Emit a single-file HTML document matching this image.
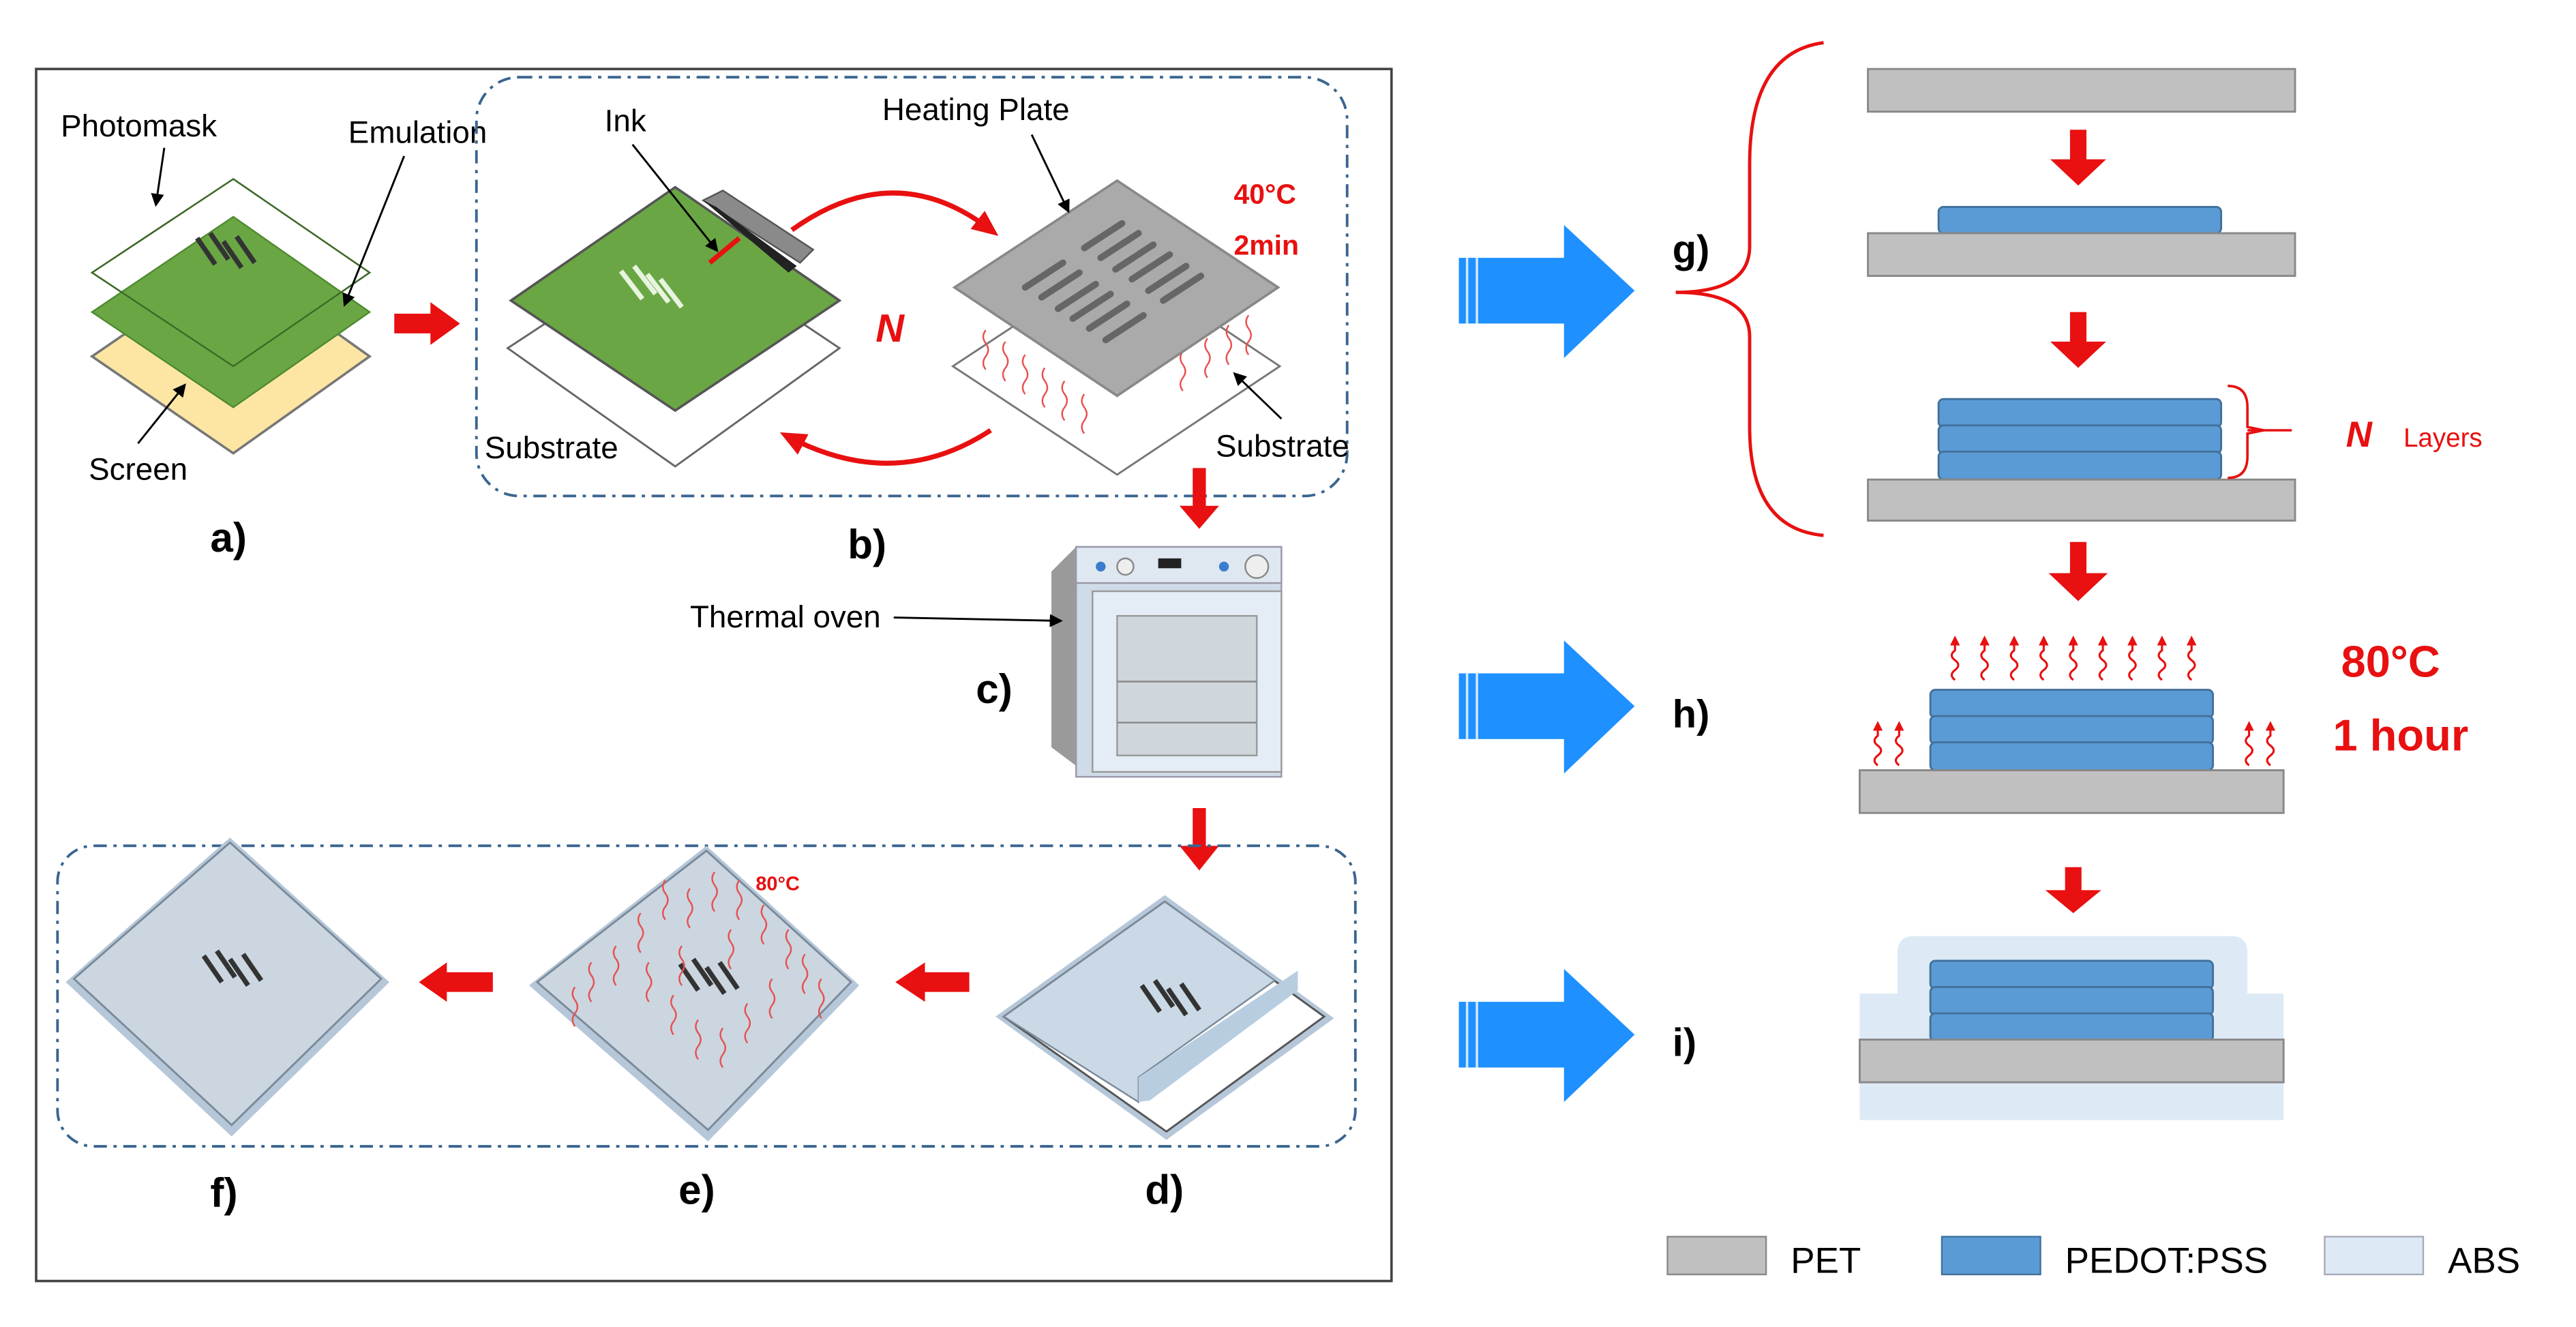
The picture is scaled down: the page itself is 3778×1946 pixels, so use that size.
<!DOCTYPE html>
<html><head><meta charset="utf-8"><style>
html,body{margin:0;padding:0;background:#fff}
svg{display:block}
text{font-family:"Liberation Sans",sans-serif}
</style></head><body>
<svg width="3778" height="1946" viewBox="0 0 1568 808" preserveAspectRatio="none" xmlns="http://www.w3.org/2000/svg">
<defs>
<marker id="ah" markerWidth="8" markerHeight="8" refX="6" refY="4" orient="auto" markerUnits="userSpaceOnUse"><path d="M0,0 L8,4 L0,8 z" fill="#000"/></marker>
<marker id="rh" markerWidth="16" markerHeight="14" refX="10" refY="7" orient="auto" markerUnits="userSpaceOnUse"><path d="M0,0 L16,7 L0,14 z" fill="#e81010"/></marker>
<marker id="sh" markerWidth="6" markerHeight="6" refX="3" refY="3" orient="auto" markerUnits="userSpaceOnUse"><path d="M0,0 L6,3 L0,6 z" fill="#e81010"/></marker>
<g id="wv"><path d="M0,0 q-4,-3 0,-6 q4,-3 0,-6 q-4,-3 0,-6 l0,-6" fill="none" stroke="#e81010" stroke-width="1.3" marker-end="url(#sh)"/></g>
<g id="tw"><path d="M0,0 q-3,-4 0,-8 q3,-4 0,-8 q-3,-4 0,-8" fill="none" stroke="#e85050" stroke-width="1"/></g>
<g id="pat" stroke="#333" stroke-width="3"><line x1="0" y1="0" x2="11" y2="16"/><line x1="8" y1="-3" x2="19" y2="13"/><line x1="16" y1="2" x2="27" y2="18"/><line x1="24" y1="-1" x2="35" y2="15"/></g>
</defs>
<rect width="1568" height="808" fill="#fff"/>
<rect x="22" y="42" width="825" height="738" fill="none" stroke="#444" stroke-width="1.5"/>

<!-- a) -->
<polygon points="142,158 225,217 142,276 56,217" fill="#fde6a4" stroke="#777" stroke-width="1.5"/>
<polygon points="142,109 225,166 142,223 56,166" fill="#fff" stroke="#666" stroke-width="1"/>
<polygon points="142,132 225,190 142,248 56,190" fill="#6aa744" stroke="#4e8a30" stroke-width="1"/>
<polygon points="142,109 225,166 142,223 56,166" fill="none" stroke="#3b6a25" stroke-width="1"/>
<use href="#pat" x="120" y="145"/>
<text x="37" y="83" font-size="19">Photomask</text>
<line x1="100" y1="90" x2="95" y2="124" stroke="#000" stroke-width="1.2" marker-end="url(#ah)"/>
<text x="212" y="87" font-size="19">Emulation</text>
<line x1="246" y1="95" x2="210" y2="185" stroke="#000" stroke-width="1.2" marker-end="url(#ah)"/>
<text x="54" y="292" font-size="19">Screen</text>
<line x1="84" y1="270" x2="112" y2="235" stroke="#000" stroke-width="1.2" marker-end="url(#ah)"/>
<text x="128" y="336" font-size="25" font-weight="bold">a)</text>
<polygon points="240,191 262,191 262,184 280,197 262,210 262,203 240,203" fill="#e81010"/>

<!-- b) -->
<rect x="290" y="47" width="530" height="255" rx="26" fill="none" stroke="#3a6590" stroke-width="1.6" stroke-dasharray="8,4,2,4"/>
<polygon points="411,145 511,212 411,284 309,212" fill="#fff" stroke="#666" stroke-width="1.2"/>
<polygon points="411,114 511,183 411,250 311,183" fill="#6aa744" stroke="#555" stroke-width="1.5"/>
<g stroke="#e8f4e0" stroke-width="3"><line x1="378" y1="165" x2="391" y2="182"/><line x1="386" y1="162" x2="399" y2="179"/><line x1="394" y1="167" x2="407" y2="184"/><line x1="402" y1="170" x2="415" y2="187"/></g>
<polygon points="428,122 440,116 495,152 487,160" fill="#8a8a8a" stroke="#555"/>
<polygon points="428,122 436,126 485,162 480,166" fill="#222"/>
<line x1="432" y1="160" x2="450" y2="145" stroke="#e81010" stroke-width="3"/>
<text x="368" y="80" font-size="19">Ink</text>
<line x1="385" y1="88" x2="436" y2="152" stroke="#000" stroke-width="1.2" marker-end="url(#ah)"/>
<polygon points="680,157 779,223 680,289 580,223" fill="#fff" stroke="#777" stroke-width="1.2"/>
<g><use href="#tw" x="600" y="225"/><use href="#tw" x="612" y="232"/><use href="#tw" x="624" y="240"/><use href="#tw" x="636" y="248"/><use href="#tw" x="648" y="256"/><use href="#tw" x="660" y="264"/><use href="#tw" x="720" y="238"/><use href="#tw" x="735" y="230"/><use href="#tw" x="748" y="222"/><use href="#tw" x="760" y="216"/></g>
<polygon points="680,110 778,175 680,241 581,175" fill="#aaa" stroke="#888" stroke-width="1.5"/>
<g stroke="#666" stroke-width="4" stroke-linecap="round">
<line x1="660" y1="151" x2="683" y2="136"/><line x1="670" y1="157" x2="693" y2="142"/><line x1="679" y1="164" x2="702" y2="149"/><line x1="689" y1="170" x2="712" y2="155"/><line x1="699" y1="177" x2="722" y2="162"/><line x1="708" y1="183" x2="731" y2="168"/>
<line x1="624" y1="175" x2="647" y2="160"/><line x1="634" y1="181" x2="657" y2="166"/><line x1="644" y1="188" x2="667" y2="173"/><line x1="653" y1="194" x2="676" y2="179"/><line x1="663" y1="200" x2="686" y2="185"/><line x1="673" y1="207" x2="696" y2="192"/>
</g>
<text x="537" y="73" font-size="19">Heating Plate</text>
<line x1="628" y1="82" x2="650" y2="128" stroke="#000" stroke-width="1.2" marker-end="url(#ah)"/>
<text x="751" y="124" font-size="17" font-weight="bold" fill="#e81010">40°C</text>
<text x="751" y="155" font-size="17" font-weight="bold" fill="#e81010">2min</text>
<text x="533" y="208" font-size="24" font-weight="bold" font-style="italic" fill="#e81010">N</text>
<path d="M482,140 Q545,95 603,140" fill="none" stroke="#e81010" stroke-width="3" marker-end="url(#rh)"/>
<path d="M603,262 Q545,300 480,266" fill="none" stroke="#e81010" stroke-width="3" marker-end="url(#rh)"/>
<text x="295" y="279" font-size="19">Substrate</text>
<text x="740" y="278" font-size="19">Substrate</text>
<line x1="780" y1="255" x2="752" y2="228" stroke="#000" stroke-width="1.2" marker-end="url(#ah)"/>
<text x="516" y="340" font-size="25" font-weight="bold">b)</text>
<polygon points="726,285 734,285 734,308 742,308 730,322 718,308 726,308" fill="#e81010"/>

<!-- oven -->
<polygon points="640,348 655,333 660,470 640,455" fill="#9a9a9a"/>
<rect x="655" y="333" width="125" height="140" fill="#cfdbe6" stroke="#99a"/>
<rect x="655" y="333" width="125" height="22" fill="#dfe8f0" stroke="#99a"/>
<circle cx="670" cy="345" r="3" fill="#3a7dd0"/><circle cx="685" cy="345" r="5" fill="#eee" stroke="#888"/><rect x="705" y="340" width="14" height="6" fill="#222"/><circle cx="745" cy="345" r="3" fill="#3a7dd0"/><circle cx="765" cy="345" r="7" fill="#eee" stroke="#888"/>
<rect x="665" y="360" width="115" height="110" fill="#e4edf5" stroke="#999"/>
<rect x="680" y="375" width="85" height="85" fill="#cfd6dc" stroke="#999"/>
<line x1="680" y1="415" x2="765" y2="415" stroke="#888"/>
<line x1="680" y1="440" x2="765" y2="440" stroke="#888"/>
<text x="420" y="382" font-size="19">Thermal oven</text>
<line x1="544" y1="376" x2="645" y2="378" stroke="#000" stroke-width="1.2" marker-end="url(#ah)"/>
<text x="594" y="428" font-size="25" font-weight="bold">c)</text>
<polygon points="726,492 734,492 734,515 742,515 730,530 718,515 726,515" fill="#e81010"/>

<!-- bottom box -->
<rect x="35" y="515" width="790" height="183" rx="22" fill="none" stroke="#3a6590" stroke-width="1.6" stroke-dasharray="8,4,2,4"/>
<polygon points="140,510 237,598 141,692 40,598" fill="#b5c7d8"/>
<polygon points="140,513 232,596 141,685 45,596" fill="#cbd6e0" stroke="#7a8a99" stroke-width="1.2"/>
<use href="#pat" x="124" y="582"/>
<text x="128" y="735" font-size="25" font-weight="bold">f)</text>
<polygon points="300,592 272,592 272,586 255,598 272,610 272,604 300,604" fill="#e81010"/>
<polygon points="430,515 523,600 431,695 322,600" fill="#b5c7d8"/>
<polygon points="430,518 518,598 431,688 327,598" fill="#cbd6e0" stroke="#7a8a99" stroke-width="1.2"/>
<use href="#pat" x="414" y="587"/>
<g><use href="#tw" x="405" y="560"/><use href="#tw" x="420" y="565"/><use href="#tw" x="435" y="555"/><use href="#tw" x="450" y="560"/><use href="#tw" x="465" y="575"/><use href="#tw" x="480" y="590"/><use href="#tw" x="390" y="580"/><use href="#tw" x="375" y="600"/><use href="#tw" x="395" y="610"/><use href="#tw" x="410" y="630"/><use href="#tw" x="425" y="645"/><use href="#tw" x="440" y="650"/><use href="#tw" x="455" y="635"/><use href="#tw" x="470" y="620"/><use href="#tw" x="360" y="610"/><use href="#tw" x="445" y="590"/><use href="#tw" x="490" y="605"/><use href="#tw" x="415" y="600"/><use href="#tw" x="350" y="625"/><use href="#tw" x="500" y="620"/></g>
<text x="460" y="542" font-size="12" font-weight="bold" fill="#e81010">80°C</text>
<text x="413" y="733" font-size="25" font-weight="bold">e)</text>
<polygon points="590,592 563,592 563,586 545,598 563,610 563,604 590,604" fill="#e81010"/>
<!-- d -->
<polygon points="709,545 812,620 710,694 606,619" fill="#b5c7d8"/>
<polygon points="709,549 806,619 710,689 611,619" fill="#fff" stroke="#555" stroke-width="1.2"/>
<polygon points="709,549 776,597 693,656 693,671 611,619" fill="#cbd9e6" stroke="#7a8a99" stroke-width="1"/>
<polygon points="693,656 790,591 790,603 700,670 693,671" fill="#b8cde0"/>
<use href="#pat" x="695" y="600"/>
<text x="697" y="733" font-size="25" font-weight="bold">d)</text>

<!-- right side -->
<g id="ba"><rect x="888" y="157" width="66" height="40" fill="#1e90ff"/><line x1="893" y1="157" x2="893" y2="197" stroke="#cfe6ff" stroke-width="1.5"/><line x1="899" y1="157" x2="899" y2="197" stroke="#cfe6ff" stroke-width="1.5"/><polygon points="952,137 995,177 952,218" fill="#1e90ff"/></g>
<use href="#ba" y="253"/>
<use href="#ba" y="453"/>
<text x="1018" y="160" font-size="24" font-weight="bold">g)</text>
<text x="1018" y="443" font-size="24" font-weight="bold">h)</text>
<text x="1018" y="643" font-size="24" font-weight="bold">i)</text>
<path d="M1110,26 Q1065,32 1065,100 L1065,150 Q1065,178 1020,178 Q1065,178 1065,205 L1065,260 Q1065,322 1110,326" fill="none" stroke="#e81010" stroke-width="2"/>
<g stroke="#888" stroke-width="1.2">
<rect x="1137" y="42" width="260" height="26" fill="#c0c0c0"/>
<rect x="1180" y="126" width="172" height="16" rx="3" fill="#5b9bd5" stroke="#41719c"/>
<rect x="1137" y="142" width="260" height="26" fill="#c0c0c0"/>
<rect x="1180" y="243" width="172" height="17" rx="3" fill="#5b9bd5" stroke="#41719c"/>
<rect x="1180" y="259" width="172" height="17" rx="3" fill="#5b9bd5" stroke="#41719c"/>
<rect x="1180" y="275" width="172" height="17" rx="3" fill="#5b9bd5" stroke="#41719c"/>
<rect x="1137" y="292" width="260" height="25" fill="#c0c0c0"/>
</g>
<path d="M1356,235 Q1368,235 1368,248 L1368,260 L1378,262 L1368,264 L1368,278 Q1368,291 1356,291" fill="none" stroke="#e81010" stroke-width="1.5"/>
<line x1="1368" y1="262" x2="1395" y2="262" stroke="#e81010" stroke-width="1.5"/>
<text x="1428" y="272" font-size="22" font-weight="bold" font-style="italic" fill="#e81010">N</text>
<text x="1463" y="272" font-size="16" fill="#e81010">Layers</text>
<g fill="#e81010">
<polygon points="1260,79 1270,79 1270,97 1282,97 1265,113 1248,97 1260,97"/>
<polygon points="1260,190 1270,190 1270,208 1282,208 1265,224 1248,208 1260,208"/>
<polygon points="1260,330 1270,330 1270,349 1283,349 1265,366 1247,349 1260,349"/>
<polygon points="1257,528 1267,528 1267,542 1279,542 1262,556 1245,542 1257,542"/>
</g>
<g stroke="#888" stroke-width="1.2">
<rect x="1175" y="420" width="172" height="17" rx="3" fill="#5b9bd5" stroke="#41719c"/>
<rect x="1175" y="436" width="172" height="17" rx="3" fill="#5b9bd5" stroke="#41719c"/>
<rect x="1175" y="452" width="172" height="17" rx="3" fill="#5b9bd5" stroke="#41719c"/>
<rect x="1132" y="469" width="258" height="26" fill="#c0c0c0"/>
</g>
<g><use href="#wv" x="1190" y="414"/><use href="#wv" x="1208" y="414"/><use href="#wv" x="1226" y="414"/><use href="#wv" x="1244" y="414"/><use href="#wv" x="1262" y="414"/><use href="#wv" x="1280" y="414"/><use href="#wv" x="1298" y="414"/><use href="#wv" x="1316" y="414"/><use href="#wv" x="1334" y="414"/>
<use href="#wv" x="1143" y="466"/><use href="#wv" x="1156" y="466"/><use href="#wv" x="1369" y="466"/><use href="#wv" x="1382" y="466"/></g>
<text x="1425" y="412" font-size="27" font-weight="bold" fill="#e81010">80°C</text>
<text x="1420" y="457" font-size="27" font-weight="bold" fill="#e81010">1 hour</text>
<path d="M1132,605 L1155,605 L1155,580 Q1155,570 1165,570 L1358,570 Q1368,570 1368,580 L1368,605 L1390,605 L1390,682 L1132,682 Z" fill="#ddeaf6"/>
<g stroke="#888" stroke-width="1.2">
<rect x="1175" y="585" width="172" height="17" rx="3" fill="#5b9bd5" stroke="#41719c"/>
<rect x="1175" y="601" width="172" height="17" rx="3" fill="#5b9bd5" stroke="#41719c"/>
<rect x="1175" y="617" width="172" height="17" rx="3" fill="#5b9bd5" stroke="#41719c"/>
<rect x="1132" y="633" width="258" height="26" fill="#c0c0c0"/>
</g>
<rect x="1015" y="753" width="60" height="23" fill="#c0c0c0" stroke="#888"/>
<text x="1090" y="775" font-size="22">PET</text>
<rect x="1182" y="753" width="60" height="23" fill="#5b9bd5" stroke="#41719c"/>
<text x="1257" y="775" font-size="22">PEDOT:PSS</text>
<rect x="1415" y="753" width="60" height="23" fill="#ddeaf6" stroke="#aab"/>
<text x="1490" y="775" font-size="22">ABS</text>
</svg>
</body></html>
